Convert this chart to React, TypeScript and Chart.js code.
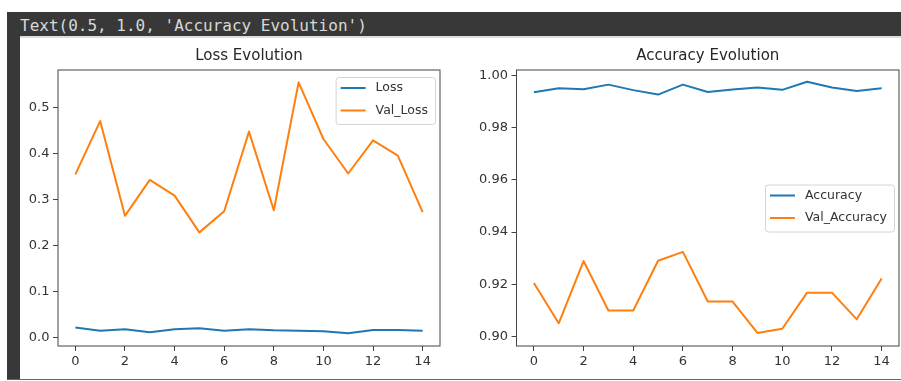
import React, { useEffect, useRef } from "react";
import { Chart, registerables } from "chart.js";

Chart.register(...registerables);

const epochs = [0, 1, 2, 3, 4, 5, 6, 7, 8, 9, 10, 11, 12, 13, 14];
const loss = [0.022, 0.0154, 0.0185, 0.012, 0.0185, 0.0207, 0.0154, 0.0185, 0.016, 0.015, 0.014, 0.0097, 0.017, 0.017, 0.015];
const valLoss = [0.355, 0.471, 0.265, 0.343, 0.309, 0.229, 0.275, 0.448, 0.277, 0.555, 0.432, 0.357, 0.429, 0.396, 0.273];
const accuracy = [0.9935, 0.995, 0.9946, 0.9964, 0.9943, 0.9926, 0.9964, 0.9936, 0.9945, 0.9953, 0.9944, 0.9975, 0.9953, 0.994, 0.995];
const valAccuracy = [0.9205, 0.9051, 0.9289, 0.91, 0.91, 0.929, 0.9324, 0.9134, 0.9134, 0.9014, 0.903, 0.9168, 0.9168, 0.9066, 0.9222];
const xTicks = [0, 2, 4, 6, 8, 10, 12, 14];
const lossTicks = [0, 0.1, 0.2, 0.3, 0.4, 0.5];
const accTicks = [0.9, 0.92, 0.94, 0.96, 0.98, 1.0];

const BLUE = "#1f77b4";
const ORANGE = "#ff7f0e";
const FONT = '"DejaVu Sans", sans-serif';

function roundRectPath(ctx: CanvasRenderingContext2D, x: number, y: number, w: number, h: number, r: number) {
  ctx.beginPath();
  ctx.moveTo(x + r, y);
  ctx.lineTo(x + w - r, y);
  ctx.arcTo(x + w, y, x + w, y + r, r);
  ctx.lineTo(x + w, y + h - r);
  ctx.arcTo(x + w, y + h, x + w - r, y + h, r);
  ctx.lineTo(x + r, y + h);
  ctx.arcTo(x, y + h, x, y + h - r, r);
  ctx.lineTo(x, y + r);
  ctx.arcTo(x, y, x + r, y, r);
  ctx.closePath();
}

const framePlugin = {
  id: "frame",
  afterDraw(chart: any, _args: any, opts: any) {
    const { ctx, chartArea: a } = chart;
    ctx.save();
    // spines
    ctx.strokeStyle = "#444";
    ctx.lineWidth = 1;
    ctx.strokeRect(a.left, a.top, a.right - a.left, a.bottom - a.top);
    // title
    ctx.fillStyle = "#262626";
    ctx.font = `15px ${FONT}`;
    ctx.textAlign = "center";
    ctx.textBaseline = "alphabetic";
    ctx.fillText(opts.title, (a.left + a.right) / 2, a.top - 10);
    // legend
    const items = chart.data.datasets.map((d: any) => ({ label: d.label, color: d.borderColor }));
    ctx.font = `12.5px ${FONT}`;
    const maxW = Math.max(...items.map((i: any) => ctx.measureText(i.label).width));
    const w = 5 + 25 + 10 + maxW + 7;
    const h = 47;
    const x = a.right - 5 - w;
    const y = opts.loc === "upper right" ? a.top + 7 : (a.top + a.bottom) / 2 - h / 2;
    roundRectPath(ctx, x + 0.5, y + 0.5, w, h, 3);
    ctx.fillStyle = "rgba(255,255,255,0.8)";
    ctx.fill();
    ctx.strokeStyle = "#d4d4d4";
    ctx.lineWidth = 1;
    ctx.stroke();
    items.forEach((it: any, i: number) => {
      const cy = y + 11 + i * 22.5;
      ctx.strokeStyle = it.color;
      ctx.lineWidth = 2;
      ctx.beginPath();
      ctx.moveTo(x + 5, cy);
      ctx.lineTo(x + 30, cy);
      ctx.stroke();
      ctx.fillStyle = "#333";
      ctx.textAlign = "left";
      ctx.textBaseline = "middle";
      ctx.fillText(it.label, x + 40, cy);
    });
    ctx.restore();
  },
};

function makeConfig(p: {
  title: string;
  labels: string[];
  series: number[][];
  yMin: number;
  yMax: number;
  yTicks: number[];
  decimals: number;
  yWidth: number;
  rightPad: number;
  loc: string;
}): any {
  const colors = [BLUE, ORANGE];
  return {
    type: "line",
    data: {
      datasets: p.series.map((s, k) => ({
        label: p.labels[k],
        data: epochs.map((e, i) => ({ x: e, y: s[i] })),
        borderColor: colors[k],
        backgroundColor: colors[k],
        borderWidth: 2,
        pointRadius: 0,
        tension: 0,
        borderJoinStyle: "round",
      })),
    },
    options: {
      responsive: false,
      animation: false,
      devicePixelRatio: 1,
      layout: { padding: { left: 0, top: 33, right: p.rightPad, bottom: 0 } },
      plugins: {
        legend: { display: false },
        title: { display: false },
        tooltip: { enabled: false },
        frame: { title: p.title, loc: p.loc },
      },
      scales: {
        x: {
          type: "linear",
          min: -0.7,
          max: 14.7,
          afterBuildTicks: (s: any) => {
            s.ticks = xTicks.map((v) => ({ value: v }));
          },
          afterFit: (s: any) => {
            s.height = 33;
          },
          border: { display: false },
          grid: { drawOnChartArea: false, drawTicks: true, tickLength: 5, color: "#444" },
          ticks: {
            autoSkip: false,
            maxRotation: 0,
            padding: 3,
            color: "#333",
            font: { family: FONT, size: 13 },
            callback: (v: any) => String(v),
          },
        },
        y: {
          type: "linear",
          min: p.yMin,
          max: p.yMax,
          afterBuildTicks: (s: any) => {
            s.ticks = p.yTicks.map((v) => ({ value: v }));
          },
          afterFit: (s: any) => {
            s.width = p.yWidth;
          },
          border: { display: false },
          grid: { drawOnChartArea: false, drawTicks: true, tickLength: 5, color: "#444" },
          ticks: {
            autoSkip: false,
            padding: 3.5,
            color: "#333",
            font: { family: FONT, size: 13 },
            callback: (v: any) => Number(v).toFixed(p.decimals),
          },
        },
      },
    },
    plugins: [framePlugin],
  };
}

export default function App() {
  const leftRef = useRef<HTMLCanvasElement | null>(null);
  const rightRef = useRef<HTMLCanvasElement | null>(null);

  useEffect(() => {
    const c1 = new Chart(
      leftRef.current as HTMLCanvasElement,
      makeConfig({
        title: "Loss Evolution",
        labels: ["Loss", "Val_Loss"],
        series: [loss, valLoss],
        yMin: -0.018,
        yMax: 0.582,
        yTicks: lossTicks,
        decimals: 1,
        yWidth: 38,
        rightPad: 15,
        loc: "upper right",
      })
    );
    const c2 = new Chart(
      rightRef.current as HTMLCanvasElement,
      makeConfig({
        title: "Accuracy Evolution",
        labels: ["Accuracy", "Val_Accuracy"],
        series: [accuracy, valAccuracy],
        yMin: 0.8964,
        yMax: 1.002,
        yTicks: accTicks,
        decimals: 2,
        yWidth: 61.5,
        rightPad: 2,
        loc: "center right",
      })
    );
    return () => {
      c1.destroy();
      c2.destroy();
    };
  }, []);

  return (
    <div
      style={{
        position: "fixed",
        left: 0,
        top: 0,
        width: 901,
        height: 381,
        background: "#ffffff",
        overflow: "hidden",
      }}
    >
      <div style={{ position: "absolute", left: 7, top: 12, width: 894, height: 24, background: "#383838" }} />
      <div
        style={{
          position: "absolute",
          left: 20,
          top: 14,
          height: 24,
          lineHeight: "24px",
          fontFamily: '"DejaVu Sans Mono", monospace',
          fontSize: 16,
          color: "#d8d8d8",
          whiteSpace: "pre",
        }}
      >
        Text(0.5, 1.0, 'Accuracy Evolution')
      </div>
      <div style={{ position: "absolute", left: 7, top: 12, width: 12.5, height: 368, background: "#383838" }} />
      <div style={{ position: "absolute", left: 19.5, top: 36, width: 882, height: 1.5, background: "#dcdcdc" }} />
      <div style={{ position: "absolute", left: 7, top: 378.5, width: 894, height: 1.5, background: "#666" }} />
      <canvas ref={leftRef} width={435} height={342} style={{ position: "absolute", left: 20, top: 37 }} />
      <canvas ref={rightRef} width={446} height={342} style={{ position: "absolute", left: 455, top: 37 }} />
    </div>
  );
}
